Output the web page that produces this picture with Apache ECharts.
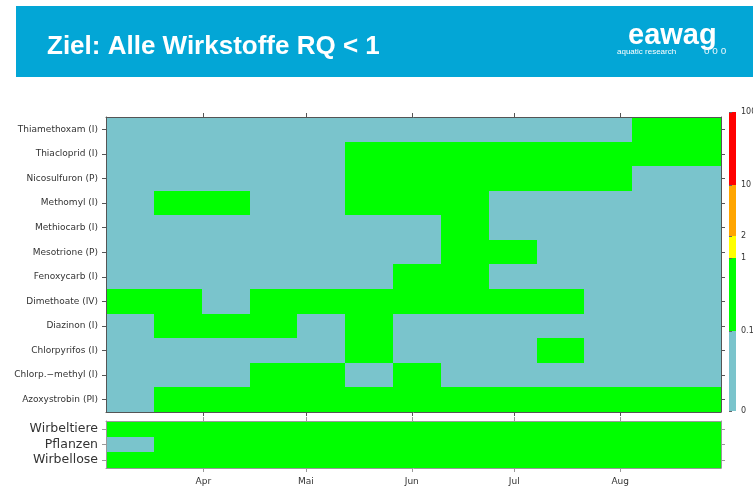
<!DOCTYPE html>
<html>
<head>
<meta charset="utf-8">
<script src="https://cdn.jsdelivr.net/npm/echarts@6/dist/echarts.min.js"></script>
<style>
  html, body { margin: 0; padding: 0; background: #ffffff; }
  #chart { width: 753px; height: 488px; }
</style>
</head>
<body>
<div id="chart"></div>
<script>
// Substances (row order top to bottom)
const substances = [
  'Thiamethoxam (I)', 'Thiacloprid (I)', 'Nicosulfuron (P)', 'Methomyl (I)',
  'Methiocarb (I)', 'Mesotrione (P)', 'Fenoxycarb (I)', 'Dimethoate (IV)',
  'Diazinon (I)', 'Chlorpyrifos (I)', 'Chlorp.\u2212methyl (I)', 'Azoxystrobin (PI)'
];

// Two-week composite sampling periods (start of each period, end of the last one)
const periodStarts = [
  '2012-03-03T12:00:00Z', '2012-03-17T12:00:00Z', '2012-03-31T12:00:00Z',
  '2012-04-14T12:00:00Z', '2012-04-28T12:00:00Z', '2012-05-12T12:00:00Z',
  '2012-05-26T12:00:00Z', '2012-06-09T12:00:00Z', '2012-06-23T12:00:00Z',
  '2012-07-07T12:00:00Z', '2012-07-21T12:00:00Z', '2012-08-04T12:00:00Z',
  '2012-08-18T12:00:00Z'
];
const periodEnd = '2012-08-30T12:00:00Z';

// Month ticks on the time axis
const monthStarts = ['2012-04-01T00:00:00Z', '2012-05-01T00:00:00Z', '2012-06-01T00:00:00Z',
                     '2012-07-01T00:00:00Z', '2012-08-01T00:00:00Z'];
const monthLabels = ['Apr', 'Mai', 'Jun', 'Jul', 'Aug'];

// Risk quotient class per period: 0 = RQ < 0.1, 1 = 0.1-1, 2 = 1-2, 3 = 2-10, 4 = >10
const thiamethoxam = [0, 0, 0, 0, 0, 0, 0, 0, 0, 0, 0, 1, 1];
const thiacloprid  = [0, 0, 0, 0, 0, 1, 1, 1, 1, 1, 1, 1, 1];
const nicosulfuron = [0, 0, 0, 0, 0, 1, 1, 1, 1, 1, 1, 0, 0];
const methomyl     = [0, 1, 1, 0, 0, 1, 1, 1, 0, 0, 0, 0, 0];
const methiocarb   = [0, 0, 0, 0, 0, 0, 0, 1, 0, 0, 0, 0, 0];
const mesotrione   = [0, 0, 0, 0, 0, 0, 0, 1, 1, 0, 0, 0, 0];
const fenoxycarb   = [0, 0, 0, 0, 0, 0, 1, 1, 0, 0, 0, 0, 0];
const dimethoate   = [1, 1, 0, 1, 1, 1, 1, 1, 1, 1, 0, 0, 0];
const diazinon     = [0, 1, 1, 1, 0, 1, 0, 0, 0, 0, 0, 0, 0];
const chlorpyrifos = [0, 0, 0, 0, 0, 1, 0, 0, 0, 1, 0, 0, 0];
const chlorpMethyl = [0, 0, 0, 1, 1, 0, 1, 0, 0, 0, 0, 0, 0];
const azoxystrobin = [0, 1, 1, 1, 1, 1, 1, 1, 1, 1, 1, 1, 1];

// Mixture risk per organism group
const groups = ['Wirbeltiere', 'Pflanzen', 'Wirbellose'];
const wirbeltiere = [1, 1, 1, 1, 1, 1, 1, 1, 1, 1, 1, 1, 1];
const pflanzen    = [0, 1, 1, 1, 1, 1, 1, 1, 1, 1, 1, 1, 1];
const wirbellose  = [1, 1, 1, 1, 1, 1, 1, 1, 1, 1, 1, 1, 1];

// Colour key
const rqBreaks = [0, 0.1, 1, 2, 10, 100];
const rqColors = ['#7AC4CC', '#00FF00', '#FFFF00', '#FFA500', '#FF0000'];

const substanceRows = [thiamethoxam, thiacloprid, nicosulfuron, methomyl, methiocarb, mesotrione,
  fenoxycarb, dimethoate, diazinon, chlorpyrifos, chlorpMethyl, azoxystrobin];
const groupRows = [wirbeltiere, pflanzen, wirbellose];

const ts = s => Date.parse(s);
const starts = periodStarts.map(ts);
const ends = starts.slice(1).concat([ts(periodEnd)]);
const monthTs = monthStarts.map(ts);
const xMin = starts[0];
const xMax = ts(periodEnd);

function cells(rows) {
  const out = [];
  rows.forEach((row, r) => {
    row.forEach((cls, p) => out.push([starts[p], ends[p], r, cls]));
  });
  return out;
}

function cellItem(params, api) {
  const a = api.coord([api.value(0), api.value(2)]);
  const b = api.coord([api.value(1), api.value(2)]);
  const h = api.size([0, 1])[1];
  const x0 = Math.round(a[0]), x1 = Math.round(b[0]);
  const y0 = Math.round(a[1] - h / 2), y1 = Math.round(a[1] + h / 2);
  return {
    type: 'rect',
    shape: { x: x0, y: y0, width: x1 - x0, height: y1 - y0 },
    style: { fill: rqColors[api.value(3)] }
  };
}

// Colour key on a log10 scale; 0 sits at the bottom of the key
const keyMin = -2.1;
const keyPos = v => (v === 0 ? keyMin : Math.log10(v));
const keyData = rqColors.map((c, i) => [0, 1, keyPos(rqBreaks[i]), keyPos(rqBreaks[i + 1]), i]);

function keyItem(params, api) {
  const lo = api.coord([api.value(0), api.value(2)]);
  const hi = api.coord([api.value(1), api.value(3)]);
  const y0 = Math.round(hi[1]), y1 = Math.round(lo[1]);
  return {
    type: 'rect',
    shape: { x: lo[0], y: y0, width: hi[0] - lo[0], height: y1 - y0 },
    style: { fill: rqColors[api.value(4)] }
  };
}

const font = 'DejaVu Sans';
const labelColor = '#333333';
const frameMain = '#555555';
const frameLow = '#9a9a9a';

function timeAxis(gridIndex, position, color, withLabels) {
  return {
    type: 'value', gridIndex, position, min: xMin, max: xMax, z: 10,
    axisLine: { show: true, onZero: false, lineStyle: { color, width: 1 } },
    axisTick: { show: true, inside: false, length: 4, customValues: monthTs, lineStyle: { color } },
    axisLabel: withLabels ? {
      show: true, customValues: monthTs, margin: 9,
      fontFamily: font, fontSize: 9, color: labelColor,
      formatter: v => monthLabels[monthTs.indexOf(v)] || ''
    } : { show: false },
    splitLine: { show: false }
  };
}

function catAxis(gridIndex, position, data, color, labelSize) {
  return {
    type: 'category', gridIndex, position, data, inverse: true, z: 10,
    axisLine: { show: true, onZero: false, lineStyle: { color, width: 1 } },
    axisTick: { show: true, inside: false, alignWithLabel: true, interval: 0, length: 4, lineStyle: { color } },
    axisLabel: labelSize ? {
      show: true, interval: 0, margin: 8, fontFamily: font, fontSize: labelSize, color: labelColor
    } : { show: false },
    splitLine: { show: false }
  };
}

const chart = echarts.init(document.getElementById('chart'), null, { renderer: 'canvas' });

chart.setOption({
  animation: false,
  backgroundColor: '#ffffff',
  graphic: [
    { type: 'rect', shape: { x: 16, y: 6, width: 737, height: 71 }, style: { fill: '#03A6D6' }, z: 0 },
    { type: 'text', x: 47, y: 47, z: 1,
      style: { text: 'Ziel: Alle Wirkstoffe RQ < 1', fill: '#ffffff', fontFamily: 'Liberation Sans',
               fontWeight: 'bold', fontSize: 26, verticalAlign: 'middle' } },
    { type: 'text', x: 628, y: 36, z: 1,
      style: { text: 'eawag', fill: '#ffffff', fontFamily: 'Liberation Sans',
               fontWeight: 'bold', fontSize: 29, verticalAlign: 'middle' } },
    { type: 'text', x: 617, y: 52, z: 1,
      style: { text: 'aquatic research', fill: '#ffffff', fontFamily: 'Liberation Sans',
               fontSize: 8, verticalAlign: 'middle' } },
    { type: 'text', x: 704, y: 51, z: 1,
      style: { text: 'o o o', fill: '#e8f6fb', fontFamily: 'Liberation Sans',
               fontSize: 10, verticalAlign: 'middle' } }
  ],
  grid: [
    { left: 106, top: 117, width: 615, height: 295, containLabel: false, outerBoundsMode: 'none' },
    { left: 106, top: 421, width: 615, height: 47, containLabel: false, outerBoundsMode: 'none' },
    { left: 729, top: 112, width: 7, height: 299, containLabel: false, outerBoundsMode: 'none' }
  ],
  xAxis: [
    timeAxis(0, 'bottom', frameMain, false),
    timeAxis(0, 'top', frameMain, false),
    timeAxis(1, 'bottom', frameLow, true),
    timeAxis(1, 'top', frameLow, false),
    { type: 'value', gridIndex: 2, min: 0, max: 1, show: false }
  ],
  yAxis: [
    catAxis(0, 'left', substances, frameMain, 9),
    catAxis(0, 'right', substances, frameMain, 0),
    catAxis(1, 'left', groups, frameLow, 12.5),
    catAxis(1, 'right', groups, frameLow, 0),
    {
      type: 'value', gridIndex: 2, position: 'right', min: keyMin, max: 2, z: 10,
      axisLine: { show: false },
      axisTick: { show: true, length: 3, customValues: rqBreaks.map(keyPos), lineStyle: { color: '#666' } },
      axisLabel: {
        show: true, margin: 5, customValues: rqBreaks.map(keyPos),
        fontFamily: font, fontSize: 8, color: labelColor,
        formatter: v => {
          const i = rqBreaks.map(keyPos).findIndex(p => Math.abs(p - v) < 1e-6);
          return i >= 0 ? String(rqBreaks[i]) : '';
        }
      },
      splitLine: { show: false }
    }
  ],
  series: [
    { type: 'custom', xAxisIndex: 0, yAxisIndex: 0, renderItem: cellItem,
      encode: { x: [0, 1], y: 2 }, data: cells(substanceRows), z: 2 },
    { type: 'custom', xAxisIndex: 2, yAxisIndex: 2, renderItem: cellItem,
      encode: { x: [0, 1], y: 2 }, data: cells(groupRows), z: 2 },
    { type: 'custom', xAxisIndex: 4, yAxisIndex: 4, renderItem: keyItem,
      encode: { x: [0, 1], y: [2, 3] }, data: keyData, z: 2 }
  ]
});
</script>
</body>
</html>
